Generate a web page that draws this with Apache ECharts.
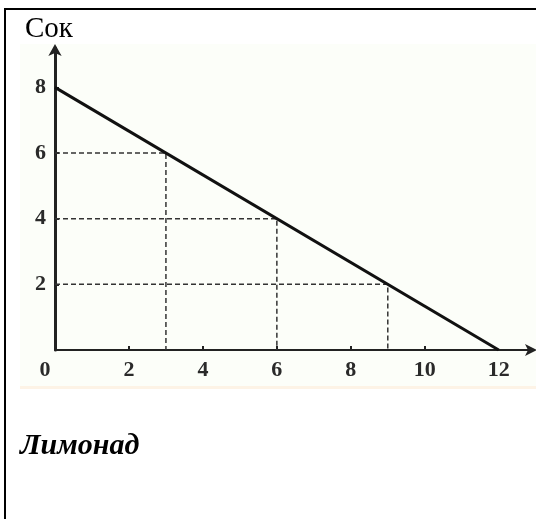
<!DOCTYPE html>
<html>
<head>
<meta charset="utf-8">
<script src="https://cdn.jsdelivr.net/npm/echarts@6/dist/echarts.min.js"></script>
<style>
  html, body { margin: 0; padding: 0; background: #fff; }
  #main { width: 536px; height: 519px; }
</style>
</head>
<body>
<div id="main"></div>
<script>
// budget line: Сок (y) vs Лимонад (x)
const lineX = [0, 12]
const lineY = [8, 0]
// dashed guide points on the line
const guideX = [3, 6, 9]
const guideY = [6, 4, 2]
// tick labels
const xLabels = [0, 2, 4, 6, 8, 10, 12]
const yLabels = [2, 4, 6, 8]
const xTicks = [2, 4, 6, 8, 10]
const yTicks = [2, 4, 6, 8]

const chart = echarts.init(document.getElementById('main'))

const guideSeries = guideX.map((gx, i) => ({
  type: 'line',
  data: [[0, guideY[i]], [gx, guideY[i]], [gx, 0]],
  symbol: 'none',
  silent: true,
  z: 2,
  lineStyle: { color: '#333', width: 1.5, type: [5, 3] }
}))

const labelFont = { fontFamily: 'Liberation Serif', fontWeight: 'bold', fontSize: 22, color: '#2a2a2a' }

chart.setOption({
  animation: false,
  title: [
    { text: 'Сок', left: 20, top: 10, textStyle: { fontFamily: 'Liberation Serif', fontWeight: 'normal', fontSize: 29, color: '#000' } },
    { text: 'Лимонад', left: 15, top: 426, textStyle: { fontFamily: 'Liberation Serif', fontWeight: 'bold', fontStyle: 'italic', fontSize: 30, color: '#000' } }
  ],
  graphic: [
    { type: 'rect', shape: { x: 20, y: 44, width: 516, height: 344 }, style: { fill: '#fcfef9' }, z: -10 },
    { type: 'rect', shape: { x: 20, y: 386, width: 516, height: 3 }, style: { fill: '#fdf3e6' }, z: -10 },
    { type: 'line', shape: { x1: 4, y1: 9, x2: 536, y2: 9 }, style: { stroke: '#000', lineWidth: 2 } },
    { type: 'line', shape: { x1: 5, y1: 8, x2: 5, y2: 519 }, style: { stroke: '#000', lineWidth: 2 } }
  ],
  grid: { left: 55, right: 4, top: 48, bottom: 169 },
  xAxis: {
    type: 'value',
    min: 0,
    max: 12.9,
    splitLine: { show: false },
    axisLine: { lineStyle: { color: '#222', width: 2 }, symbol: ['none', 'arrow'], symbolSize: [9, 12], symbolOffset: [0, 5] },
    axisTick: { inside: true, length: 4, customValues: xTicks, lineStyle: { color: '#222', width: 2 } },
    axisLabel: {
      customValues: xLabels,
      margin: 9,
      ...labelFont,
      formatter: v => (v === 0 ? '{z|0}' : String(v)),
      rich: { z: { ...labelFont, padding: [0, 20, 0, 0] } }
    }
  },
  yAxis: {
    type: 'value',
    min: 0,
    max: 9.2,
    splitLine: { show: false },
    axisLine: { lineStyle: { color: '#222', width: 3 }, symbol: ['none', 'arrow'], symbolSize: [10, 12], symbolOffset: [0, 4] },
    axisTick: { inside: true, length: 4, customValues: yTicks, lineStyle: { color: '#222', width: 2 } },
    axisLabel: { customValues: yLabels, margin: 9, ...labelFont }
  },
  series: [
    ...guideSeries,
    {
      type: 'line',
      data: lineX.map((x, i) => [x, lineY[i]]),
      symbol: 'none',
      z: 3,
      lineStyle: { color: '#111', width: 3 }
    }
  ]
})
</script>
</body>
</html>
